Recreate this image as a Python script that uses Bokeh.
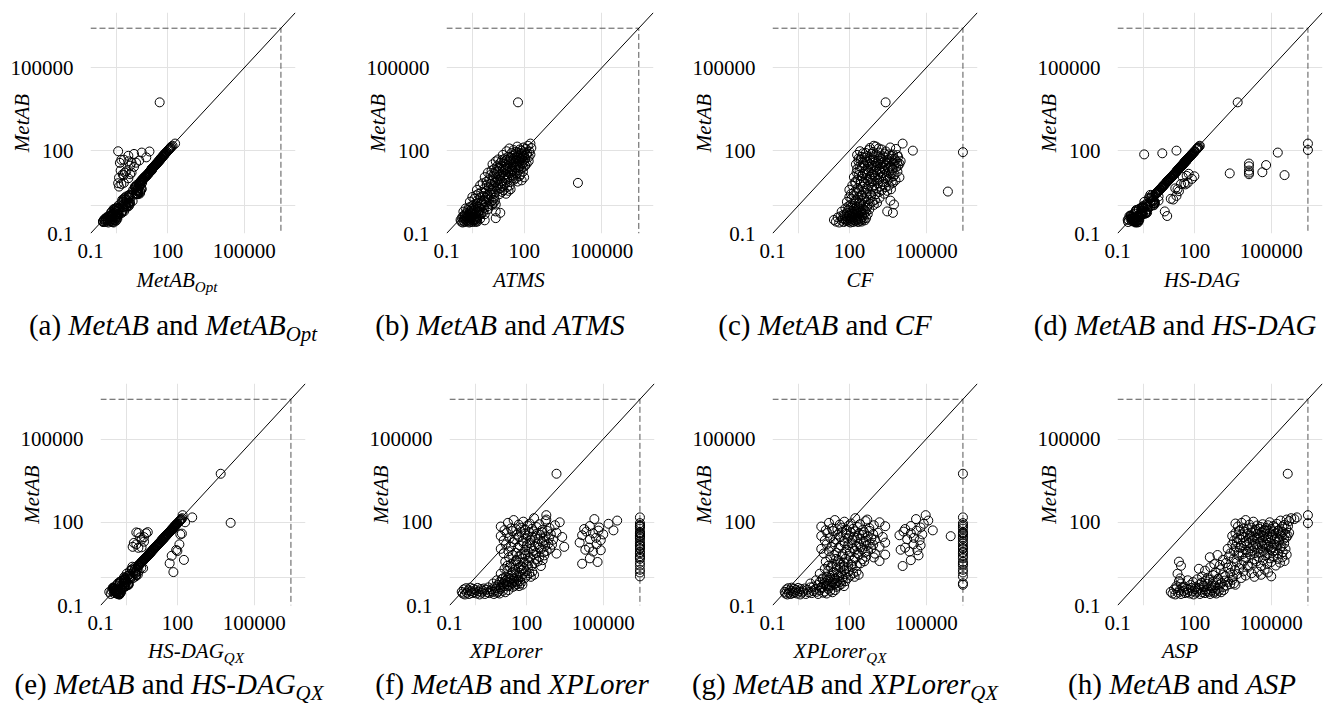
from bokeh.plotting import figure
from bokeh.layouts import column, row
from bokeh.models import Range1d, FixedTicker, CustomJSTickFormatter, ColumnDataSource, Div
from bokeh.embed import file_html
from bokeh.resources import INLINE

# ---------------- data (runtimes, log-log) ----------------
TIMEOUT = 2700000
T = TIMEOUT
AXIS_MIN = 0.1
AXIS_MAX = 10000000
TICK_VALUES = [0.1, 100, 100000]
GRID_VALUES = [0.1, 1, 100, 100000]

# MetAB runtime per instance (y of every panel); instances listed in blocks of 40,30,30,35,45,45,35,2
metab = [
    0.31, 0.27, 0.38, 0.25, 0.42, 0.29, 0.35, 0.26, 0.44, 0.33, 0.28, 0.40, 0.30, 0.36, 0.27, 0.43, 0.32, 0.25, 0.39, 0.29,
    0.34, 0.41, 0.26, 0.37, 0.30, 0.45, 0.28, 0.33, 0.38, 0.31, 0.26, 0.35, 0.42, 0.29, 0.32, 0.27, 0.40, 0.34, 0.30, 0.36,
    0.62, 0.48, 0.81, 0.55, 0.70, 0.46, 0.88, 0.58, 0.66, 0.51, 0.77, 0.60, 0.85, 0.49, 0.73, 0.53, 0.68, 0.90, 0.57, 0.64,
    0.47, 0.79, 0.52, 0.71, 0.59, 0.84, 0.50, 0.75, 0.63, 0.56,
    1.4, 0.95, 2.1, 1.1, 1.8, 1.0, 2.4, 1.25, 1.6, 0.92, 2.0, 1.3, 1.15, 2.3, 1.5, 1.05, 1.9, 1.35, 2.2, 0.98,
    1.7, 1.2, 2.5, 1.45, 1.08, 1.65, 1.28, 1.95, 1.55, 1.12,
    3.8, 2.7, 5.5, 3.1, 6.6, 2.9, 4.4, 3.4, 5.9, 2.6, 4.9, 3.6, 6.2, 3.0, 4.1, 5.2, 2.8, 6.9, 3.3, 4.6,
    3.9, 5.7, 2.65, 4.3, 6.4, 3.2, 5.0, 3.7, 6.0, 2.75, 4.8, 3.5, 5.4, 4.0, 6.8,
    11, 7.5, 16, 9, 13, 19, 8, 12, 14.5, 7.2, 17.5, 10, 15, 8.5, 18, 11.5, 9.5, 13.5, 7.8, 16.5,
    12.5, 10.5, 19.5, 8.2, 14, 9.2, 17, 11.2, 15.5, 7.4, 13, 18.5, 10.2, 12.2, 8.8, 16, 9.8, 14.8, 7.6, 20,
    11.8, 13.8, 8.4, 17.2, 10.8,
    32, 22, 41, 27, 48, 24, 36, 29, 45, 21, 38, 26, 33, 43, 23, 30, 47, 28, 39, 25,
    35, 44, 21.5, 31, 49, 26.5, 37, 23.5, 42, 29.5, 34, 46, 24.5, 40, 27.5, 50, 22.5, 36.5, 31.5, 44.5,
    25.5, 38.5, 28.5, 33.5, 41.5,
    70, 52, 95, 60, 120, 56, 82, 64, 105, 54, 76, 90, 58, 140, 67, 85, 53, 110, 62, 78,
    100, 57, 73, 130, 65, 88, 51, 115, 69, 80, 150, 59, 93, 72, 125,
    5600, 180]

metab_opt = [
    0.34, 0.68, 0.61, 0.80, 0.55, 0.58, 0.42, 0.73, 0.66, 0.73, 0.31, 0.72, 0.90, 0.50, 0.46, 1.03, 0.40, 0.50, 0.43, 1.0,
    0.54, 0.49, 0.36, 0.96, 0.57, 0.59, 0.64, 0.35, 1.1, 0.47, 0.31, 0.74, 0.71, 0.38, 0.86, 0.31, 0.54, 1.12, 0.48, 0.40,
    0.68, 1.2, 1.3, 1.65, 0.91, 0.92, 1.06, 1.62, 0.99, 1.12, 0.85, 1.08, 2.5, 0.69, 1.24, 1.27, 0.85, 1.8, 0.63, 2.05,
    0.75, 0.95, 0.73, 1.85, 1.12, 1.09, 1.15, 0.79, 1.7, 0.84,
    1.7, 2.5, 3.2, 3.3, 2.0, 2.2, 3.1, 3.5, 2.6, 1.85, 2.2, 3.1, 1.95, 3.2, 4.4, 1.26, 3.6, 3.4, 2.5, 3.1,
    2.4, 2.5, 3.25, 2.6, 2.9, 1.73, 2.9, 3.1, 1.9, 2.2,
    4.6, 6.5, 8.3, 8.7, 1.2, 5.8, 5.7, 8.8, 9.4, 5.7, 5.4, 6.8, 1.6, 4.2, 10, 6.2, 8.4, 10.4, 6.9, 6.0,
    7.0, 6.3, 7.2, 6.9, 7.7, 7.4, 1.3, 6.3, 8.4, 6.9, 5.5, 7.0, 8.1, 9.6, 2.0,
    13, 9.0, 2.2, 11, 16, 1.5, 10, 15, 18, 8.5, 21, 3.0, 18, 10, 2.5, 14, 11, 17, 9.5, 20,
    15, 1.3, 24, 10, 3.5, 11, 21, 14, 19, 9.0, 2.0, 23, 12, 15, 10.5, 4.0, 12, 18, 9.0, 25,
    14, 1.8, 10, 21, 13,
    36, 26, 3.0, 31, 54, 27, 1.4, 33, 50, 24, 42, 5.0, 37, 48, 26, 34, 2.0, 32, 44, 28,
    40, 8.0, 24, 35, 55, 30, 4.0, 27, 47, 33, 38, 1.6, 28, 45, 31, 56, 25, 6.0, 35, 50,
    29, 43, 3.5, 38, 46,
    76, 56, 1.2, 64, 125, 60, 88, 68, 110, 58, 5.0, 95, 62, 145, 70, 10, 56, 115, 66, 82,
    105, 15, 78, 135, 3.0, 92, 54, 120, 73, 84, 160, 64, 20, 76, 130,
    50, 200]

atms = [
    0.35, 0.37, 0.40, 0.42, 0.44, 0.46, 0.48, 0.50, 0.52, 0.55, 0.57, 0.60, 0.62, 0.65, 0.68, 0.70, 0.73, 0.76, 0.80, 0.83,
    0.86, 0.90, 0.94, 0.98, 1.02, 1.06, 1.1, 1.15, 1.2, 1.25, 1.3, 1.35, 1.4, 1.45, 1.5, 1.55, 1.6, 2.0, 3.0, 8.0,
    0.45, 0.5, 0.55, 0.6, 0.65, 0.7, 0.75, 0.8, 0.85, 0.9, 0.95, 1.0, 1.1, 1.2, 1.3, 1.4, 1.5, 1.6, 1.7, 1.8,
    1.9, 2.0, 2.2, 2.4, 2.6, 2.8, 3.0, 4.0, 8.0, 12,
    0.8, 0.9, 1.0, 1.1, 1.2, 1.3, 1.4, 1.5, 1.6, 1.8, 2.0, 2.2, 2.4, 2.6, 2.8, 3.0, 3.2, 3.5, 3.8, 4.0,
    4.3, 4.6, 5.0, 5.4, 5.8, 6.2, 6.6, 7.0, 7.5, 8.0,
    1.5, 1.7, 2.0, 2.2, 2.5, 2.8, 3.0, 3.3, 3.6, 4.0, 4.4, 4.8, 5.2, 5.6, 6.0, 6.5, 7.0, 7.5, 8.0, 8.6,
    9.2, 10, 11, 12, 13, 14, 15, 16, 18, 20, 22, 25, 28, 30, 12000,
    3.0, 3.5, 4.0, 4.5, 5.0, 5.5, 6.0, 6.5, 7.0, 7.5, 8.0, 8.5, 9.0, 9.5, 10, 11, 12, 13, 14, 15,
    16, 17, 18, 19, 20, 22, 24, 26, 28, 30, 32, 34, 36, 38, 40, 44, 48, 52, 56, 60,
    66, 72, 80, 90, 100,
    6, 7, 8, 9, 10, 11, 12, 13, 14, 15, 16, 17, 18, 19, 20, 21, 22, 24, 26, 28,
    30, 32, 34, 36, 38, 40, 42, 45, 48, 51, 54, 57, 60, 64, 68, 72, 76, 80, 85, 90,
    95, 100, 110, 125, 150,
    15, 18, 21, 24, 27, 30, 33, 36, 39, 42, 45, 48, 51, 54, 57, 60, 64, 68, 72, 76,
    80, 85, 90, 95, 100, 105, 110, 118, 125, 132, 140, 150, 160, 175, 190,
    58, 175]

cf = [
    25, 30, 35, 40, 45, 50, 55, 60, 65, 70, 75, 80, 85, 90, 95, 100, 105, 110, 115, 120,
    125, 130, 140, 150, 160, 170, 180, 190, 200, 210, 220, 235, 250, 265, 280, 300, 330, 360, 400, 450,
    50, 60, 70, 80, 90, 100, 110, 120, 130, 140, 150, 160, 170, 185, 200, 215, 230, 250, 270, 290,
    310, 340, 370, 400, 440, 480, 520, 600, 3000, 5000,
    80, 90, 100, 110, 120, 135, 150, 165, 180, 200, 220, 240, 260, 290, 320, 350, 380, 420, 460, 500,
    560, 620, 700, 800, 900, 1000, 1200, 1500, 4000, 5500,
    100, 115, 130, 150, 170, 190, 210, 240, 270, 300, 330, 370, 410, 450, 500, 560, 620, 700, 700000, 780,
    860, 950, 1050, 1150, 1300, 1450, 1600, 1800, 2000, 2300, 2600, 3000, 3500, 4200, 5000,
    150, 170, 190, 210, 230, 250, 280, 310, 340, 370, 400, 440, 480, 520, 570, 620, 680, 740, 800, 870,
    950, 1030, 1120, 1220, 1330, 1450, 1580, 1720, 1880, 2050, 2240, 2440, 2660, 2900, 3160, 3450, 3760, 4100, 4470, 4870,
    5300, 5800, 6300, 7500, 9000,
    180, 200, 225, 250, 280, 310, 345, 380, 420, 460, 500, 550, 600, 660, 720, 790, 860, 940, 1020, 1110,
    1210, 1320, 1440, 1570, 1710, 1860, 2030, 2210, 2410, 2630, 2870, 3130, 3410, 3720, 4050, 4420, 4820, 5250, 5720, 6240,
    6800, 7400, 8100, 9000, 10000,
    200, 230, 260, 300, 1400, 390, 440, 500, 570, 650, 740, 840, 960, 1090, 1240, 1410, 1600, 1820, 2070, 2350,
    30000, 3040, 3450, 3920, 4460, T, 5760, 6550, 7440, 340, 900, 8000, 2670, 5070, 630,
    2600, 12000]

hs_dag = [
    0.25, 0.51, 0.46, 0.60, 0.29, 0.44, 0.35, 0.55, 0.33, 0.53, 0.36, 0.36, 0.66, 0.40, 0.46, 8.7, 0.27, 0.50, 0.49, 0.41,
    0.32, 0.74, 0.65, 0.39, 0.41, 0.32, 0.53, 0.38, 0.61, 0.71, 0.26, 0.51, 0.34, 0.58, 0.38, 0.46, 0.36, 0.44, 0.66, 0.40,
    0.50, 0.91, 0.97, 1.32, 0.53, 0.69, 0.88, 1.22, 0.86, 0.87, 0.69, 1.32, 0.94, 0.78, 1.46, 0.45, 0.95, 1.04, 1.43, 0.61,
    0.85, 0.83, 1.2, 0.57, 0.86, 1.05, 1.0, 0.68, 7.0, 0.90,
    1.12, 1.9, 2.5, 2.6, 12, 1.5, 2.2, 2.6, 2.1, 1.56, 1.7, 2.9, 1.27, 20, 2.4, 2.6, 1.8, 1.9, 4.0, 0.98,
    15, 2.8, 1.9, 2.75, 1.35, 2.5, 2.6, 2.05, 4.0, 1.5,
    4.4, 3.1, 6.4, 3.6, 40, 3.3, 5.1, 25, 6.8, 3.0, 5.6, 4.1, 30, 3.5, 4.7, 6.0, 3.2, 55, 3.8, 5.3,
    4.5, 6.6, 3.0, 18, 7.4, 3.7, 5.8, 4.3, 45, 3.2, 5.5, 4.0, 6.2, 22, 7.8,
    12.5, 8.6, 18.5, 10.3, 15, 13500, 9.2, 13.8, 60, 8.3, 20, 11.5, 2400, 9.8, 20.5, 13.2, 80, 15.5, 9.0, 45000,
    14.4, 12, 22, 9.4, 13500, 10.6, 19.5, 35, 17.8, 8.5, 330000, 21, 11.7, 50, 10.1, 13500, 11.3, 17, 8.7, 23,
    100, 15.8, 9.7, 19.8, 12.4,
    36, 25, 46, 13500, 53, 27, 40, 32, 50, 24, 42, 29, 37, 48, 26, 63000, 52, 31, 43, 28,
    39, 49, 24, 35, 54, 30, 41, 26, 47, 33, 13500, 51, 27, 44, 31, 55, 25, 40, 35, 49,
    28, 42, 32, 37, 46,
    76, 57, 104, 66, 130, 61, 90, 70, T, 59, 83, 98, 63, 152, 73, 180000, 58, 120, 68, 85,
    20, 62, 1.1, 141, 71, 96, 56, 125, 75, 5.6, 163, 64, 101, 78, 136,
    4900, T]

hs_dag_qx = [
    0.22, 0.49, 0.42, 0.55, 0.34, 0.41, 0.32, 0.52, 0.33, 0.50, 0.34, 0.34, 0.57, 0.36, 0.43, 0.30, 0.42, 0.53, 0.35, 0.44,
    0.27, 0.70, 0.57, 0.39, 0.38, 0.32, 0.50, 0.36, 0.57, 0.62, 0.25, 0.47, 0.32, 0.55, 0.37, 0.43, 0.34, 0.41, 0.63, 0.36,
    0.47, 0.86, 0.89, 1.21, 0.56, 0.69, 0.79, 1.16, 0.79, 0.82, 0.65, 1.26, 0.85, 0.83, 0.95, 0.42, 0.95, 0.95, 1.25, 0.58,
    0.89, 0.79, 1.04, 0.57, 0.80, 0.97, 0.90, 0.64, 0.95, 0.70,
    1.05, 1.8, 2.3, 2.3, 1.44, 1.5, 2.16, 2.5, 70, 1.47, 1.7, 2.86, 1.15, 3.9, 1.95, 0.84, 2.66, 1.42, 4.6, 0.88,
    3.06, 1.2, 1.75, 2.3, 1.35, 1.9, 2.43, 1.66, 2.3, 1.5,
    4.2, 3.0, 6.2, 3.4, 7.3, 3.2, 180, 3.8, 6.6, 2.9, 5.4, 4.0, 60, 3.3, 4.6, 5.8, 3.1, 7.6, 50, 5.1,
    4.3, 6.3, 2.9, 4.8, 7.1, 3.5, 5.6, 4.1, 6.7, 3.0, 5.3, 3.9, 6.0, 4.4, 7.5,
    12, 8.3, 2.5, 10, 14.5, 21, 8.9, 3.0, 16, 8.0, 19, 90, 16.5, 9.4, 2.0, 12.7, 10.5, 15, 8.6, 18,
    4.0, 11.6, 21.5, 9.1, 15.5, 100, 18.8, 12.4, 17, 8.2, 1.8, 20.5, 11.3, 13.5, 9.7, 120, 10.8, 16.4, 8.4, 5.0,
    13, 15.3, 9.3, 19, 12,
    35, 24, 3.0, 30, 53, 26, 40, 5.0, 50, 23, 42, 29, 36, 2.5, 25, 33, 52, 31, 150, 28,
    39, 7.0, 24, 34, 54, 29, 41, 4.0, 46, 33, 38, 51, 27, 6.0, 30, 55, 25, 130, 35, 49,
    28, 43, 3.5, 37, 46,
    77, 57, 12000, 66, 132, 62, 90, 70, 116, 59, 84, 99, 64, 154, 74, 94, 58, 121, 68, 86,
    200, 63, 80, 143, 72, 97, 56, 127, 76, 88, 380, 65, 102, 79, 138,
    4900, 160]

xplorer = [
    0.3, 0.33, 0.36, 0.4, 0.44, 0.48, 0.53, 0.58, 0.64, 0.7, 0.77, 0.85, 0.94, 1.03, 1.13, 1.25, 1.38, 1.5, 1.65, 1.8,
    2.0, 2.2, 2.4, 2.7, 3.0, 3.3, 3.6, 4.0, 4.4, 4.9, 5.4, 6.0, 6.6, 7.3, 8.0, 9.0, 10, 12, 15, 20,
    5, 6, 7, 8, 9, 10, 11, 12, 13, 14, 15, 16, 17, 18, 19, 20, 22, 24, 26, 28,
    30, 33, 36, 40, 44, 48, 52, 56, 60, 70,
    10, 12, 14, 16, 18, 20, 23, 26, 29, 32, 36, 40, 44, 49, 54, 60, 66, 73, 80, 88,
    97, 107, 118, 130, 150, 170, 200, T, T, T,
    15, 18, 21, 25, 29, 34, 40, 46, 53, 61, 70, 80, 92, 105, 120, 140, 160, 185, 210, 240,
    280, 320, 370, 430, 500, 15000, 30000, 60000, T, T, T, T, T, 40, 90,
    10, 13, 16, 20, 25, 31, 38, 46, 55, 65, 77, 90, 105, 122, 140, 160, 185, 210, 240, 275,
    315, 360, 410, 470, 540, 620, 720, 850, 1000, 1500, 3000, 12000, 20000, 28000, 40000, 55000, 80000, T, T, T,
    T, T, T, T, T,
    10, 13, 17, 22, 28, 35, 43, 52, 62, 73, 85, 98, 112, 127, 145, 165, 190, 220, 255, 300,
    350, 410, 480, 560, 650, 760, 900, 1100, 1500, 2500, 15000, 22000, 30000, 40000, 52000, 65000, 80000, 100000, T, T,
    T, T, T, T, T,
    10, 14, 19, 25, 32, 40, 50, 62, 76, 92, 110, 135, 165, 200, 250, 320, 420, 560, 800, 1300,
    2000, 18000, 30000, 45000, 70000, 160000, 250000, 350000, T, T, T, T, T, T, 600,
    1500, 600]

xplorer_qx = [
    0.3, 0.32, 0.35, 0.38, 0.41, 0.44, 0.48, 0.52, 0.56, 0.6, 0.65, 0.7, 0.76, 0.82, 0.9, 1.0, 1.1, 1.2, 1.3, 1.45,
    1.6, 1.8, 2.0, 2.3, 2.6, 3.0, 3.4, 3.9, 4.5, 5.2, 6.0, 7.0, 8.0, 9.5, 11, 13, 15, 18, 22, 28,
    3, 4, 5, 6, 7, 8, 9, 10, 11, 12, 13, 14, 15, 16, 18, 20, 22, 24, 26, 29,
    32, 35, 39, 43, 48, 55, 62, 70, T, T,
    7, 9, 11, 13, 15, 17, 19, 22, 25, 28, 31, 35, 39, 44, 49, 55, 62, 70, 78, 87,
    97, 110, 125, 140, 160, 190, 230, T, T, T,
    12, 15, 18, 22, 26, 31, 37, 44, 52, 61, 72, 85, 100, 118, 140, 165, 195, 230, 270, 320,
    380, 450, 12000, 25000, 50000, T, T, T, T, T, 30, 60, 900, 1500, 2500,
    8, 10, 13, 16, 20, 25, 31, 38, 46, 55, 65, 77, 90, 105, 122, 140, 160, 185, 210, 240,
    275, 315, 360, 410, 470, 540, 620, 720, 850, 1000, 1500, 2500, 10000, 15000, 22000, 32000, 45000, 60000, T, T,
    T, T, T, T, T,
    8, 11, 14, 18, 23, 29, 36, 44, 53, 63, 74, 86, 100, 115, 132, 150, 172, 200, 235, 275,
    320, 375, 440, 520, 610, 720, 850, 1000, 1300, 2000, 9000, 13000, 18000, 25000, 33000, 42000, 55000, 70000, 900000, T,
    T, T, T, T, T,
    8, 12, 16, 21, 27, 34, 42, 52, 64, 78, 95, 115, 140, 170, 210, 260, 330, 430, 600, 900,
    1500, 15000, 25000, 40000, 60000, 80000, 180000, 120000, T, T, T, T, T, 2500, 500,
    T, 95000]

asp = [
    12, 14, 16, 18, 20, 23, 26, 30, 34, 38, 43, 48, 54, 60, 67, 75, 84, 94, 105, 118,
    132, 148, 165, 185, 207, 232, 260, 290, 325, 365, 410, 460, 515, 575, 645, 720, 810, 900, 1100, 1400,
    30, 40, 55, 70, 90, 110, 130, 160, 190, 230, 270, 320, 380, 450, 530, 620, 720, 840, 980, 1150,
    1350, 1550, 1800, 2100, 2500, 3000, 20, 25, 3500, 4000,
    22, 28, 150, 200, 260, 330, 420, 530, 670, 850, 1050, 1300, 1600, 2000, 2500, 3100, 3800, 4600, 5600, 6800,
    8200, 10000, 13000, 17000, 22000, 30000, 40000, 55000, 75000, 100000,
    25, 30, 400, 600, 800, 1000, 1300, 1700, 2200, 2800, 3500, 4500, 5500, 7000, 8500, 10000, 12000, 15000, 18000, 22000,
    27000, 33000, 40000, 48000, 58000, 70000, 85000, 100000, 120000, 150000, 180000, 220000, 270000, 330000, 400000,
    2000, 2500, 3000, 3500, 4000, 4600, 5200, 6000, 6800, 7700, 8700, 10000, 11000, 12500, 14000, 16000, 18000, 20000, 22500, 25000,
    28000, 31000, 35000, 39000, 43000, 48000, 53000, 59000, 65000, 72000, 80000, 88000, 97000, 107000, 118000, 130000, 145000,
    160000, 180000, 200000, 225000, 250000, 280000, 320000, 360000,
    3000, 3500, 4000, 4700, 5400, 6200, 7100, 8100, 9300, 10500, 12000, 13500, 15000, 17000, 19000, 21500, 24000, 27000, 30000, 34000,
    38000, 42000, 47000, 52000, 58000, 64000, 71000, 79000, 88000, 98000, 109000, 121000, 135000, 150000, 167000, 186000,
    207000, 230000, 256000, 285000, 317000, 353000, 393000, 437000, 500000,
    5000, 6000, 7000, 8500, 10000, 12000, 14000, 17000, 20000, 24000, 28000, 4000, 33000, 600000, 39000, 46000, 54000, 500000,
    63000, 74000, 87000, 100000, 120000, 800000, 140000, 165000, 195000, 230000, 270000, 320000, 1000000, 380000, T, 450000, 400000,
    440000, T]

for nm, arr in (("metab_opt", metab_opt), ("atms", atms), ("cf", cf), ("hs_dag", hs_dag), ("hs_dag_qx", hs_dag_qx),
                ("xplorer", xplorer), ("xplorer_qx", xplorer_qx), ("asp", asp)):
    assert len(arr) == len(metab), (nm, len(arr), len(metab))

# ---------------- styling ----------------
FONT = "Liberation Serif"
TICK_PX = 21
TITLE_PX = 21
CAP_PX = 29

# letter, x data, name, subscript, column x0, width, frame L, frame R, x-title centre, caption centre
TOP = [
    ("a", metab_opt, "MetAB", "Opt", 0, 333, 90, 295, 177, 173),
    ("b", atms, "ATMS", "", 333, 334, 446, 653, 519, 500),
    ("c", cf, "CF", "", 667, 333, 772, 977, 860, 825),
    ("d", hs_dag, "HS-DAG", "", 1000, 334, 1117, 1322, 1202, 1175),
]
BOTTOM = [
    ("e", hs_dag_qx, "HS-DAG", "QX", 0, 333, 100, 305, 196, 169),
    ("f", xplorer, "XPLorer", "", 333, 334, 449, 654, 506, 512),
    ("g", xplorer_qx, "XPLorer", "QX", 667, 333, 772, 977, 840, 845),
    ("h", asp, "ASP", "", 1000, 334, 1117, 1322, 1180, 1182),
]
# figure top y, frame top, frame bottom, figure bottom, div bottom, title baseline, caption baseline
ROWS = [
    (0, 12, 233, 270, 358, 288, 335),
    (358, 383, 605, 642, 717, 659, 694),
]


def make_fig(xs, x0, w, L, R, y0, T_, B, fig_bottom):
    h = fig_bottom - y0
    p = figure(width=w, height=h, x_axis_type="log", y_axis_type="log",
               x_range=Range1d(AXIS_MIN, AXIS_MAX), y_range=Range1d(AXIS_MIN, AXIS_MAX),
               output_backend="svg", toolbar_location=None,
               min_border_left=L - x0, min_border_right=x0 + w - R,
               min_border_top=T_ - y0, min_border_bottom=fig_bottom - B)
    p.outline_line_color = None
    p.background_fill_color = "white"
    p.border_fill_color = "white"
    for ax in (p.xaxis[0], p.yaxis[0]):
        ax.ticker = FixedTicker(ticks=TICK_VALUES, minor_ticks=[])
        ax.formatter = CustomJSTickFormatter(code="return tick.toString();")
        ax.axis_line_color = None
        ax.major_tick_line_color = None
        ax.minor_tick_line_color = None
        ax.major_tick_out = 0
        ax.major_tick_in = 0
        ax.major_label_text_font = FONT
        ax.major_label_text_font_size = f"{TICK_PX}px"
        ax.major_label_text_color = "black"
    p.xaxis[0].major_label_standoff = 10
    p.yaxis[0].major_label_standoff = 17
    yax = p.yaxis[0]
    yax.axis_label = "MetAB"
    yax.axis_label_text_font = FONT
    yax.axis_label_text_font_style = "italic"
    yax.axis_label_text_font_size = f"{TITLE_PX}px"
    yax.axis_label_text_color = "black"
    yax.axis_label_standoff = -26
    p.xgrid[0].ticker = FixedTicker(ticks=GRID_VALUES, minor_ticks=[])
    p.ygrid[0].ticker = FixedTicker(ticks=GRID_VALUES, minor_ticks=[])
    for g in (p.xgrid[0], p.ygrid[0]):
        g.grid_line_color = "#e2e2e2"
        g.grid_line_width = 1

    p.line(x=[AXIS_MIN, TIMEOUT, TIMEOUT], y=[TIMEOUT, TIMEOUT, AXIS_MIN],
           line_color="#555555", line_width=1, line_dash="6 3")
    p.line(x=[AXIS_MIN, AXIS_MAX], y=[AXIS_MIN, AXIS_MAX], line_color="black", line_width=1)
    src = ColumnDataSource(dict(x=xs, y=metab))
    p.scatter(x="x", y="y", source=src, marker="circle", size=9,
              fill_color=None, line_color="black", line_width=1)
    return p


def span(cx, baseline, size, inner):
    top = baseline - 0.8375 * size
    return ('<span style="position:absolute;left:%.1fpx;top:%.1fpx;transform:translateX(-50%%);'
            'white-space:nowrap;font-family:\'Liberation Serif\',serif;font-size:%dpx;line-height:%dpx;'
            'color:#000;">%s</span>' % (cx, top, size, size, inner))


def name_html(name, sub):
    s = "<i>%s</i>" % name
    if sub:
        s += '<i style="font-size:0.72em;position:relative;top:0.28em;">%s</i>' % sub
    return s


def make_div(letter, name, sub, x0, w, title_cx, cap_cx, div_top, div_bottom, t_base, c_base):
    h = div_bottom - div_top
    inner = span(title_cx - x0, t_base - div_top, TITLE_PX, name_html(name, sub))
    inner += span(cap_cx - x0, c_base - div_top, CAP_PX,
                  "(%s) <i>MetAB</i> and %s" % (letter, name_html(name, sub)))
    html = '<div style="position:relative;width:%dpx;height:%dpx;overflow:visible;">%s</div>' % (w, h, inner)
    return Div(text=html, width=w, height=h, margin=0)


rows = []
for panels, (y0, T_, B, fig_bottom, div_bottom, t_base, c_base) in zip((TOP, BOTTOM), ROWS):
    figs, divs = [], []
    for letter, xs, name, sub, x0, w, L, R, tcx, ccx in panels:
        figs.append(make_fig(xs, x0, w, L, R, y0, T_, B, fig_bottom))
        divs.append(make_div(letter, name, sub, x0, w, tcx, ccx, fig_bottom, div_bottom, t_base, c_base))
    rows.append(row(*figs, spacing=0))
    rows.append(row(*divs, spacing=0))

layout = column(*rows, spacing=0)
open("out.html", "w").write(file_html(layout, INLINE))
